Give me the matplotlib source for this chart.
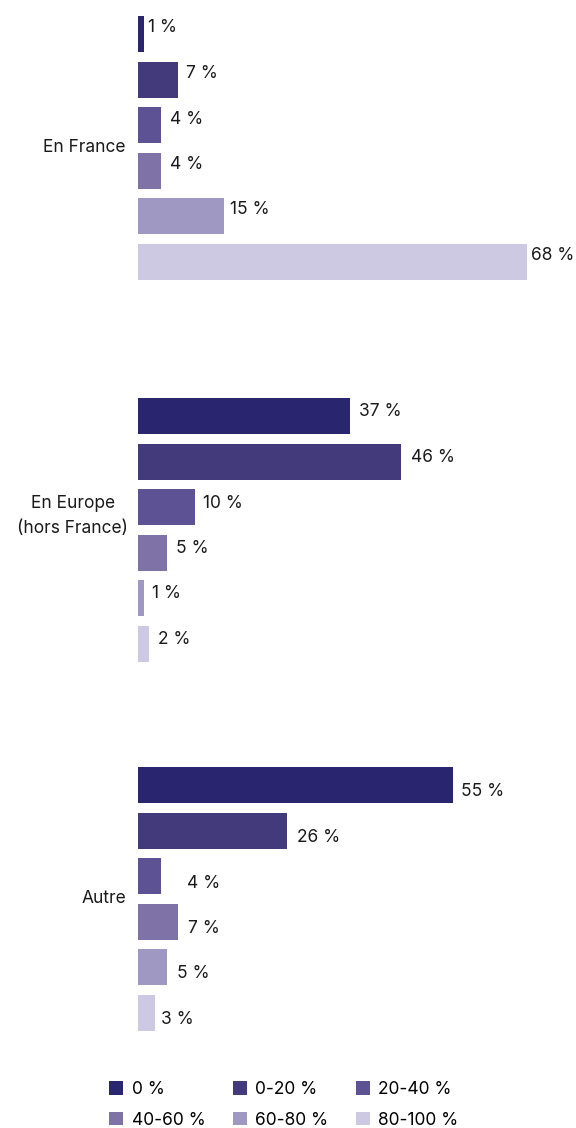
import matplotlib.pyplot as plt
from matplotlib.patches import Patch

plt.rcParams['font.family'] = ['Inter', 'DejaVu Sans']

# Share of respondents per range, for each zone
groups = ["En France", "En Europe\n(hors France)", "Autre"]
ranges = ["0 %", "0-20 %", "20-40 %", "40-60 %", "60-80 %", "80-100 %"]
france = [1, 7, 4, 4, 15, 68]
europe = [37, 46, 10, 5, 1, 2]
autre = [55, 26, 4, 7, 5, 3]
values = [france, europe, autre]

colors = ["#29256e", "#423a7b", "#5d5294", "#7e72a7", "#9f98c3", "#cdc9e2"]

W, H = 576, 1128
fig = plt.figure(figsize=(W / 100, H / 100), dpi=100)
x0, x1 = 138, 567
top, bottom = 0, 1050
ax = fig.add_axes([x0 / W, 1 - bottom / H, (x1 - x0) / W, (bottom - top) / H])
ax.set_xlim(0, 75)
ax.set_ylim(bottom, top)
ax.axis("off")

group_tops = [34, 416, 785]
pitch = 45.5
bar_h = 36
fs = 12.5
px = 75 / (x1 - x0)  # data units per pixel along x

# label nudges in pixels (right of bar end, and vertical)
label_dx = [[4, 8, 9, 9, 6, 4],
             [9, 10, 8, 9, 8, 9],
             [8, 10, 26, 10, 10, 6]]
label_dy = [-6, -4, 7]

for g, vals in enumerate(values):
    ys = [group_tops[g] + i * pitch for i in range(len(vals))]
    ax.barh(ys, vals, height=bar_h, color=colors, left=0)
    for i, (y, v) in enumerate(zip(ys, vals)):
        ax.text(v + label_dx[g][i] * px, y + label_dy[g], f"{v} %",
                va="center", ha="left", fontsize=fs, color="#1a1a1a")
    mid = (ys[0] + ys[-1]) / 2
    if g == 1:
        ax.text(-11.4, mid - 14, groups[g], ha="center", va="center",
                fontsize=fs, color="#1a1a1a", multialignment="center",
                linespacing=1.6)
    else:
        ax.text(-2.1, mid, groups[g], ha="right", va="center",
                fontsize=fs, color="#1a1a1a")

# Legend in two rows, reading left to right
handles = [Patch(facecolor=c, edgecolor="none") for c in colors]
order = [0, 3, 1, 4, 2, 5]
fig.legend([handles[k] for k in order], [ranges[k] for k in order],
           ncol=3, loc="upper left", bbox_to_anchor=(102 / W, 1 - 1074 / H),
           frameon=False, fontsize=fs, handlelength=0.8, handleheight=0.8,
           handletextpad=0.5, columnspacing=1.58, labelspacing=0.8,
           borderaxespad=0)

fig.savefig("out.png", dpi=100)
